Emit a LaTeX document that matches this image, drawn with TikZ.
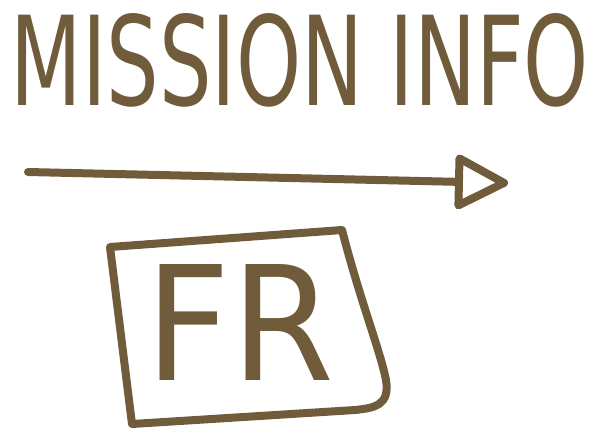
\documentclass[tikz,border=0pt]{standalone}
\usepackage{fontspec}
\setsansfont{DejaVu Sans}
\usetikzlibrary{arrows.meta}
\definecolor{ink}{RGB}{112,92,58}
\begin{document}
\begin{tikzpicture}[x=1pt,y=-1pt,
  pen/.style={draw=ink,line width=8pt,line cap=round,line join=round},
  hand/.style={text=ink,inner sep=0pt}]
\useasboundingbox (0,0) rectangle (600,434);
\node[hand] (title) at (300,60) {\resizebox{578pt}{92pt}{\sffamily MISSION INFO}};
\coordinate (a0) at (28,172);
\coordinate (a1) at (508,183);
\draw[pen,-{Triangle[open,length=58pt,width=58pt,line width=8pt,round]}] (a0) -- (a1);
\node[hand] (fr) at (240,322) {\resizebox{188pt}{116pt}{\sffamily FR}};
\draw[pen] (110,247) -- (342,230) .. controls (360,300) and (380,350) .. (386,380)
  .. controls (390,405) and (375,408) .. (355,410) -- (132,424) -- cycle;
\end{tikzpicture}
\end{document}
